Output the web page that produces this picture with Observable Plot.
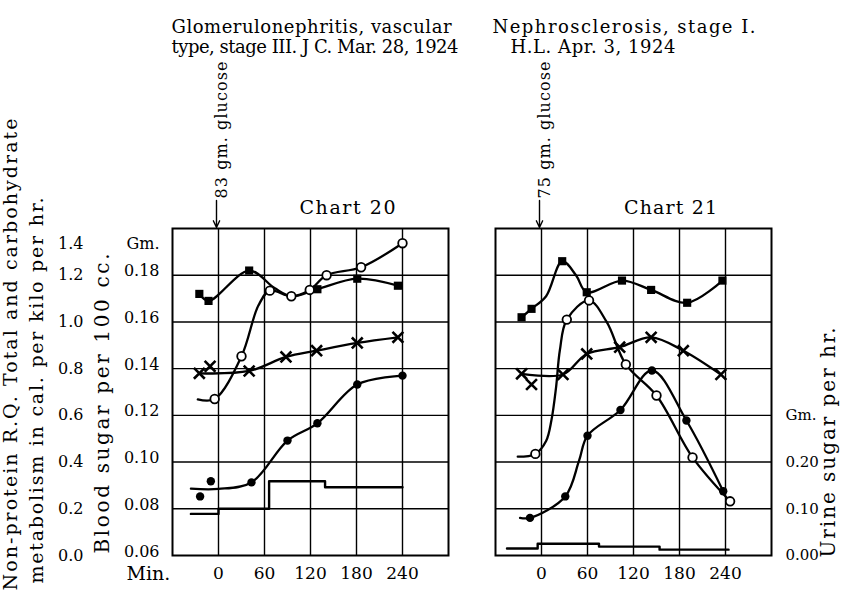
<!DOCTYPE html>
<html><head><meta charset="utf-8">
<script src="https://cdn.jsdelivr.net/npm/d3@7"></script>
<script src="https://cdn.jsdelivr.net/npm/@observablehq/plot@0.6"></script>
<style>
body{margin:0;background:#fff;}
#chart{width:855px;height:591px;}
</style></head><body><div id="chart"></div>
<script>
// ---- tick labels / categories ----
const charts = ["Chart 20", "Chart 21"];
const minuteTicks = [0, 60, 120, 180, 240];
const bloodSugarTicks = [0.06, 0.08, 0.10, 0.12, 0.14, 0.16, 0.18];
const metabTicks = [0.0, 0.2, 0.4, 0.6, 0.8, 1.0, 1.2];
const urineTicks = [0.00, 0.10, 0.20];

// ---- series values: [minutes, value, flag] flag 1 = point on curve, 0 = curve only, 2 = point only ----
// Chart 20 — Glomerulonephritis, J.C.
const total20 = [[-25,1.12,1],[-13,1.09,1],[40,1.22,1],[73,1.145,0],[95,1.11,0],[129,1.14,1],[181,1.185,1],[234,1.155,1]];
const rq20 = [[-25,0.78,1],[-11,0.81,2],[40,0.79,1],[88,0.85,1],[128,0.877,1],[181,0.91,1],[234,0.934,1]];
const bloodSugar20 = [[-27,0.1268,0],[-5,0.127,1],[30,0.1453,1],[52,0.167,0],[67,0.1734,1],[95,0.171,1],[119,0.1737,1],[141,0.180,1],[186,0.1834,1],[240,0.1937,1]];
const carb20 = [[-36,0.286,0],[-24,0.253,2],[-10,0.318,2],[0,0.285,0],[43,0.313,1],[90,0.492,1],[129,0.566,1],[181,0.732,1],[240,0.77,1]];
const urine20 = [[-36,0.089],[0,0.10],[66,0.159],[139,0.146],[240,0.146]];
// Chart 21 — Nephrosclerosis, H.L.
const total21 = [[-26,1.02,1],[-13,1.056,1],[6,1.11,0],[27,1.26,1],[45,1.2,0],[59,1.127,1],[105,1.177,1],[143,1.137,1],[190,1.082,1],[236,1.177,1]];
const rq21 = [[-26,0.778,1],[-13,0.732,2],[28,0.775,1],[59,0.863,1],[102,0.892,1],[143,0.934,1],[185,0.877,1],[234,0.775,1]];
const bloodSugar21 = [[-31,0.1023,0],[-8,0.1035,1],[6,0.109,0],[13,0.118,0],[19,0.132,0],[24,0.148,0],[33,0.161,1],[62,0.1692,1],[85,0.160,0],[110,0.1418,1],[150,0.1285,1],[197,0.102,1],[246,0.0832,1]];
const carb21 = [[-28,0.161,0],[-15,0.161,1],[31,0.253,1],[49,0.406,0],[60,0.513,1],[103,0.623,1],[144,0.792,1],[189,0.578,1],[237,0.275,1]];
const urine21 = [[-45,0.015],[-5,0.025],[75,0.019],[154,0.0125],[244,0.0125]];

// ---- texts ----
const titles = [
  {chart: "Chart 20", line1: "Glomerulonephritis, vascular", line2: "type, stage III. J C. Mar. 28, 1924"},
  {chart: "Chart 21", line1: "Nephrosclerosis, stage I.", line2: "H.L. Apr. 3, 1924"}
];
const glucose = [
  {chart: "Chart 20", t: 0, label: "83 gm. glucose"},
  {chart: "Chart 21", t: 0, label: "75 gm. glucose"}
];

// all series are drawn on the shared blood-sugar coordinate
const toY = {
  metab: v => 0.06 + v / 10,
  bs: v => v,
  urine: v => 0.06 + v / 5
};
const series = [
  {chart: "Chart 20", name: "total", unit: "metab", mark: "square", pts: total20},
  {chart: "Chart 20", name: "rq", unit: "metab", mark: "times", pts: rq20},
  {chart: "Chart 20", name: "bs", unit: "bs", mark: "open", pts: bloodSugar20},
  {chart: "Chart 20", name: "carb", unit: "metab", mark: "filled", pts: carb20},
  {chart: "Chart 21", name: "total", unit: "metab", mark: "square", pts: total21},
  {chart: "Chart 21", name: "rq", unit: "metab", mark: "times", pts: rq21},
  {chart: "Chart 21", name: "bs", unit: "bs", mark: "open", pts: bloodSugar21},
  {chart: "Chart 21", name: "carb", unit: "metab", mark: "filled", pts: carb21}
];
const rows = series.flatMap(s => s.pts.map(([t, v, f]) => ({chart: s.chart, name: s.name, mark: s.mark, t, y: toY[s.unit](v), f})));
const urineRows = [["Chart 20", urine20], ["Chart 21", urine21]].flatMap(([c, a]) => a.map(([t, v]) => ({chart: c, t, y: toY.urine(v)})));
const pts = m => rows.filter(d => d.mark === m && d.f !== 0);

const F = "DejaVu Serif";
const one = c => [{chart: c}];

const plot = Plot.plot({
  width: 855, height: 591,
  marginTop: 228, marginBottom: 36, marginLeft: 171, marginRight: 83,
  style: {fontFamily: F, background: "white", color: "black"},
  fx: {domain: charts, paddingInner: 0.145, paddingOuter: 0, axis: null},
  x: {domain: [-60, 300]},
  y: {domain: [0.06, 0.20]},
  marks: [
    Plot.gridX({ticks: minuteTicks, stroke: "black", strokeOpacity: 1, strokeWidth: 1.4}),
    Plot.gridY({ticks: bloodSugarTicks.slice(1), stroke: "black", strokeOpacity: 1, strokeWidth: 1.4}),
    Plot.frame({stroke: "black", strokeWidth: 2}),
    Plot.axisX({ticks: minuteTicks, tickSize: 0, tickPadding: 11, fontSize: 17, label: null}),
    Plot.axisY({ticks: bloodSugarTicks, anchor: "left", tickSize: 0, tickPadding: 13, fontSize: 16, tickFormat: d3.format(".2f"), label: null, dy: -4}),
    Plot.axisY({ticks: metabTicks.map(toY.metab), anchor: "left", tickSize: 0, tickPadding: 89, fontSize: 16, tickFormat: d => ((d - 0.06) * 10).toFixed(1), label: null}),
    Plot.axisY({ticks: urineTicks.map(toY.urine), anchor: "right", tickSize: 0, tickPadding: 14, fontSize: 15, tickFormat: d => ((d - 0.06) * 5).toFixed(2), label: null}),
    // curves
    Plot.line(rows.filter(d => d.f !== 2), {fx: "chart", x: "t", y: "y", z: "name", curve: "catmull-rom", stroke: "black", strokeWidth: 2.3}),
    Plot.line(urineRows, {fx: "chart", x: "t", y: "y", curve: "step-after", stroke: "black", strokeWidth: 2.4}),
    // markers
    Plot.dot(pts("square"), {fx: "chart", x: "t", y: "y", symbol: "square", r: 4.6, fill: "black"}),
    Plot.dot(pts("times"), {fx: "chart", x: "t", y: "y", symbol: "times", r: 5, stroke: "black", strokeWidth: 2.6}),
    Plot.dot(pts("open"), {fx: "chart", x: "t", y: "y", symbol: "circle", r: 4.3, fill: "white", stroke: "black", strokeWidth: 1.8}),
    Plot.dot(pts("filled"), {fx: "chart", x: "t", y: "y", symbol: "circle", r: 4.2, fill: "black"}),
    // glucose arrows
    Plot.arrow(glucose, {fx: "chart", x1: "t", x2: "t", y1: 0.212, y2: 0.2004, dx: -2, stroke: "black", strokeWidth: 1.4, headLength: 8, headAngle: 50}),
    Plot.text(glucose, {fx: "chart", x: "t", text: "label", frameAnchor: "top", rotate: -90, textAnchor: "start", dx: -3, dy: -30, fontSize: 16}),
    // titles
    Plot.text(titles.slice(0, 1), {fx: "chart", text: "line1", frameAnchor: "top-left", textAnchor: "start", dx: -1, dy: -208, fontSize: 18}),
    Plot.text(titles.slice(1), {fx: "chart", text: "line1", frameAnchor: "top-left", textAnchor: "start", dx: -3, dy: -208, fontSize: 18}),
    Plot.text(titles.slice(0, 1), {fx: "chart", text: "line2", frameAnchor: "top-left", textAnchor: "start", dx: -1, dy: -188, fontSize: 18}),
    Plot.text(titles.slice(1), {fx: "chart", text: "line2", frameAnchor: "top-left", textAnchor: "start", dx: 15, dy: -188, fontSize: 18}),
    Plot.text(charts.map(c => ({chart: c})), {fx: "chart", text: "chart", frameAnchor: "top", dx: 37, dy: -28, fontSize: 19}),
    // axis titles
    Plot.text(one("Chart 20"), {fx: "chart", text: () => "Non-protein R.Q. Total and carbohydrate", frameAnchor: "bottom-left", rotate: -90, textAnchor: "start", dx: -156, dy: 35, fontSize: 19}),
    Plot.text(one("Chart 20"), {fx: "chart", text: () => "metabolism in cal. per kilo per hr.", frameAnchor: "bottom-left", rotate: -90, textAnchor: "start", dx: -130, dy: 28, fontSize: 19}),
    Plot.text(one("Chart 20"), {fx: "chart", text: () => "Blood sugar per 100 cc.", frameAnchor: "bottom-left", rotate: -90, textAnchor: "start", dx: -64, dy: -2, fontSize: 20}),
    Plot.text(one("Chart 21"), {fx: "chart", text: () => "Urine sugar per hr.", frameAnchor: "bottom-right", rotate: -90, textAnchor: "start", dx: 63, dy: 2, fontSize: 20}),
    Plot.text(one("Chart 20"), {fx: "chart", text: () => "Min.", frameAnchor: "bottom-left", textAnchor: "start", dx: -46, dy: 24, fontSize: 19}),
    Plot.text(one("Chart 20"), {fx: "chart", text: () => "1.4", frameAnchor: "top-left", textAnchor: "end", dx: -89, dy: 9, fontSize: 16}),
    Plot.text(one("Chart 20"), {fx: "chart", text: () => "Gm.", frameAnchor: "top-left", textAnchor: "end", dx: -13, dy: 9, fontSize: 16}),
    Plot.text(one("Chart 21"), {fx: "chart", y: () => toY.urine(0.30), text: () => "Gm.", frameAnchor: "right", textAnchor: "start", dx: 14, fontSize: 15})
  ]
});

const spans = {
  "Non-protein R.Q. Total and carbohydrate": 472,
  "metabolism in cal. per kilo per hr.": 386,
  "Blood sugar per 100 cc.": 300,
  "Urine sugar per hr.": 230,
  "Glomerulonephritis, vascular": 280,
  "type, stage III. J C. Mar. 28, 1924": 287,
  "Nephrosclerosis, stage I.": 263,
  "H.L. Apr. 3, 1924": 165,
  "83 gm. glucose": 137,
  "75 gm. glucose": 137,
  "Chart 20": 96,
  "Chart 21": 93
};
plot.querySelectorAll("text").forEach(t => {
  const s = spans[t.textContent];
  if (s) t.setAttribute("textLength", s);
});
document.getElementById("chart").appendChild(plot);
</script>
</body></html>
